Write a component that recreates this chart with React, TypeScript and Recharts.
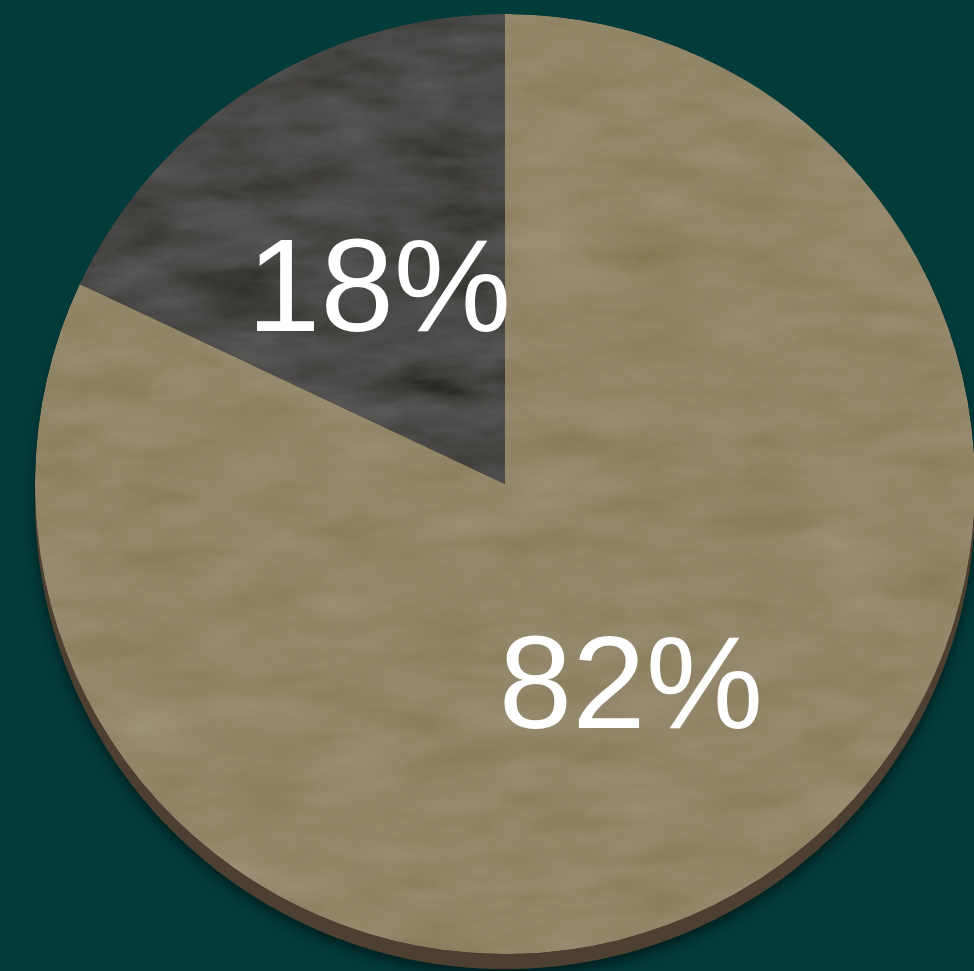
import { PieChart, Pie, Cell } from "recharts";

const names = ["Slate", "Sandstone"];
const shares = [18, 82];
const FILLS = ["#4a4947", "#928669"];

const data = names.map((name, i) => ({ name, value: shares[i] }));

const RADIAN = Math.PI / 180;

const renderLabel = (props: any) => {
  const { cx, cy, midAngle, outerRadius, value } = props;
  const r = outerRadius * 0.5;
  const x = cx + r * Math.cos(-midAngle * RADIAN);
  const y = cy + r * Math.sin(-midAngle * RADIAN);
  return (
    <text
      x={x}
      y={y}
      fill="#ffffff"
      textAnchor="middle"
      dominantBaseline="central"
      fontFamily="'Liberation Sans', Arial, sans-serif"
      fontSize={132}
    >
      {`${value}%`}
    </text>
  );
};

export default function App() {
  return (
    <div
      style={{
        position: "absolute",
        top: 0,
        left: 0,
        width: 974,
        height: 971,
        background: "#013b3a",
        overflow: "hidden",
      }}
    >
      <PieChart width={974} height={971}>
        <defs>
          <filter id="stone" x="-5%" y="-5%" width="110%" height="110%">
            <feTurbulence
              type="fractalNoise"
              baseFrequency="0.01 0.03"
              numOctaves={4}
              seed={7}
              result="noise"
            />
            <feColorMatrix
              in="noise"
              type="matrix"
              values="0.33 0.33 0.33 0 0  0.33 0.33 0.33 0 0  0.33 0.33 0.33 0 0  0 0 0 0 1"
              result="grey"
            />
            <feComposite
              in="SourceGraphic"
              in2="grey"
              operator="arithmetic"
              k1={0}
              k2={1}
              k3={0.18}
              k4={-0.09}
              result="mix"
            />
            <feComposite in="mix" in2="SourceGraphic" operator="in" />
          </filter>
          <filter id="rimShadow" x="-10%" y="-10%" width="120%" height="120%">
            <feDropShadow dx={0} dy={6} stdDeviation={6} floodColor="#000000" floodOpacity={0.5} />
          </filter>
        </defs>
        <Pie
          data={[{ name: "rim", value: 100 }]}
          dataKey="value"
          cx={500}
          cy={494}
          outerRadius={470}
          startAngle={90}
          endAngle={450}
          stroke="none"
          fill="#4d4131"
          style={{ filter: "url(#rimShadow)" }}
          isAnimationActive={false}
          legendType="none"
        />
        <Pie
          data={data}
          dataKey="value"
          cx={500}
          cy={479}
          outerRadius={470}
          startAngle={90}
          endAngle={450}
          stroke="none"
          labelLine={false}
          label={renderLabel}
          isAnimationActive={false}
        >
          {data.map((_, i) => (
            <Cell key={i} fill={FILLS[i]} style={{ filter: "url(#stone)" }} />
          ))}
        </Pie>
      </PieChart>
    </div>
  );
}
